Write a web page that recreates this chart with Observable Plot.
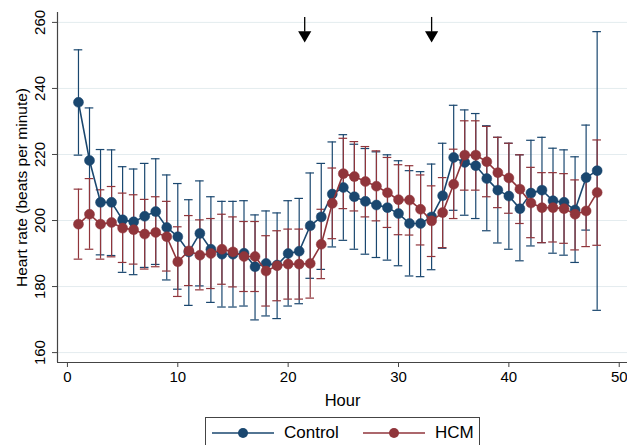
<!DOCTYPE html>
<html>
<head>
<meta charset="utf-8">
<script src="https://cdn.jsdelivr.net/npm/d3@7"></script>
<script src="https://cdn.jsdelivr.net/npm/@observablehq/plot@0.6"></script>
<style>
  html, body { margin: 0; padding: 0; background: #fff; overflow: hidden; }
  body { width: 627px; height: 445px; font-family: "Liberation Sans", Arial, sans-serif; }
  #chart svg { display: block; }
  #legend {
    position: absolute; left: 205px; top: 417px; width: 275px; height: 36px;
    border: 1px solid #444; background: #fff; box-sizing: border-box;
    font-size: 17px; color: #000;
  }
  #legend .item { position: absolute; top: 5px; height: 20px; display: flex; align-items: center; }
  #legend svg { display: block; }
  #legend span { margin-left: 10px; }
</style>
</head>
<body>
<div id="chart"></div>
<div id="legend"></div>
<script>
const hours = [1,2,3,4,5,6,7,8,9,10,11,12,13,14,15,16,17,18,19,20,21,22,23,24,25,26,27,28,29,30,31,32,33,34,35,36,37,38,39,40,41,42,43,44,45,46,47,48];

const controlMean = [235.8,218.2,205.5,205.5,200.2,199.6,201.3,202.7,197.9,195.1,190.5,196.1,191.3,189.8,189.8,190.1,186.0,187.0,186.5,190.0,190.7,198.4,201.1,208.0,210.0,207.2,205.8,204.7,203.9,202.1,199.1,199.1,201.1,207.5,219.1,217.6,216.6,212.7,209.2,207.4,203.6,208.3,209.2,206.0,205.5,203.2,213.0,215.1];
const controlLo = [219.8,202.3,189.6,189.4,184.3,183.6,185.8,186.7,182.0,179.2,174.3,180.2,175.2,173.8,173.8,174.1,169.9,171.1,170.3,174.1,174.8,182.5,185.2,192.0,194.0,191.3,189.8,188.8,188.0,186.3,183.2,183.0,185.1,191.6,203.1,201.6,200.6,196.9,193.2,191.3,187.8,192.3,193.3,190.1,189.5,187.3,197.1,172.8];
const controlHi = [251.7,234.1,221.5,221.4,216.3,215.6,217.3,218.7,213.8,211.2,206.3,212.0,207.2,205.8,205.8,206.0,201.7,202.9,202.3,206.0,206.7,214.4,217.3,223.8,226.0,223.1,221.8,220.8,219.9,218.1,215.1,214.8,217.1,223.4,234.9,233.5,232.4,228.7,225.2,223.4,219.9,224.3,225.2,221.9,221.4,219.3,228.9,257.2];

const hcmMean = [198.9,201.9,198.9,199.4,197.7,197.2,195.9,196.4,195.1,187.5,190.8,189.5,190.0,191.3,190.5,189.1,189.1,184.7,186.3,186.8,186.8,187.0,192.8,205.2,214.2,213.3,211.8,210.4,208.4,206.3,206.2,203.4,199.9,202.4,211.0,219.8,219.8,217.8,214.5,212.9,209.5,205.3,203.9,203.9,203.6,201.9,202.9,208.5];
const hcmLo = [188.3,191.3,188.3,189.0,187.3,186.8,185.3,186.0,184.7,177.0,180.3,179.0,179.4,180.7,179.9,178.5,178.5,174.1,175.7,176.2,176.2,176.5,182.4,194.5,203.6,202.9,201.1,199.9,197.9,195.7,195.6,192.6,189.1,191.8,200.6,209.2,209.2,207.2,203.9,202.2,199.1,194.8,193.3,193.5,193.1,191.1,192.1,192.5];
const hcmHi = [209.5,212.7,209.3,210.3,208.3,207.8,206.4,207.2,205.8,198.1,201.5,200.2,200.6,201.9,201.1,199.7,199.7,195.4,196.9,197.4,197.4,197.7,203.4,215.9,224.9,223.9,222.4,221.1,219.1,216.9,216.6,213.8,210.5,213.0,221.6,230.2,230.2,228.5,225.2,223.4,219.9,216.1,214.5,214.5,214.2,212.3,213.5,224.4];

const arrowHours = [21.5, 33];
const xTicks = [0, 10, 20, 30, 40, 50];
const yTicks = [160, 180, 200, 220, 240, 260];
const seriesNames = ["Control", "HCM"];
const seriesColors = ["#1a476f", "#90353b"];

const control = hours.map((h, i) => ({h, mean: controlMean[i], lo: controlLo[i], hi: controlHi[i]}));
const hcm = hours.map((h, i) => ({h, mean: hcmMean[i], lo: hcmLo[i], hi: hcmHi[i]}));

const capHalf = 0.39;
function ciMarks(data, color) {
  return [
    Plot.ruleX(data, {x: "h", y1: "lo", y2: "hi", stroke: color, strokeWidth: 1.2}),
    Plot.ruleY(data, {y: "lo", x1: d => d.h - capHalf, x2: d => d.h + capHalf, stroke: color, strokeWidth: 1.2}),
    Plot.ruleY(data, {y: "hi", x1: d => d.h - capHalf, x2: d => d.h + capHalf, stroke: color, strokeWidth: 1.2})
  ];
}
function lineMarks(data, color) {
  return [
    Plot.line(data, {x: "h", y: "mean", stroke: color, strokeWidth: 1.6}),
    Plot.dot(data, {x: "h", y: "mean", r: 5, fill: color, stroke: color, strokeWidth: 0.5})
  ];
}

const chart = Plot.plot({
  width: 627,
  height: 412,
  marginLeft: 57,
  marginRight: 0,
  marginTop: 12,
  marginBottom: 50,
  style: {fontFamily: "'Liberation Sans', Arial, sans-serif", fontSize: "15px", color: "#000", background: "#fff"},
  x: {domain: [-0.9, 50.75], ticks: xTicks, label: null},
  y: {domain: [157, 263], ticks: yTicks, label: null},
  marks: [
    Plot.gridY(yTicks, {stroke: "#e4ecef", strokeOpacity: 1, strokeWidth: 1}),
    Plot.ruleY([157], {stroke: "#444", strokeWidth: 1.2}),
    Plot.ruleX([-0.9], {stroke: "#444", strokeWidth: 1.2}),
    Plot.axisX({ticks: xTicks, tickSize: 5, tickPadding: 4, fontSize: 15, stroke: "#444"}),
    Plot.axisX({ticks: [], label: "Hour", labelAnchor: "center", labelArrow: "none", labelOffset: 43, fontSize: 16.5}),
    Plot.axisY({ticks: yTicks, tickSize: 5, tickPadding: 8, tickRotate: -90, fontSize: 15, stroke: "#444"}),
    Plot.axisY({ticks: [], label: "Heart rate (beats per minute)", labelAnchor: "center", labelArrow: "none", labelOffset: 42, fontSize: 15.5}),
    ...ciMarks(control, seriesColors[0]),
    ...ciMarks(hcm, seriesColors[1]),
    ...lineMarks(control, seriesColors[0]),
    ...lineMarks(hcm, seriesColors[1]),
    Plot.ruleX(arrowHours, {x: d => d, y1: 261.5, y2: 257, stroke: "#000", strokeWidth: 1.3}),
    Plot.dot(arrowHours, {x: d => d, y: 256.2, symbol: "triangle", r: 4.9, fill: "#000", rotate: 180})
  ]
});
document.getElementById("chart").appendChild(chart);

// legend
const legend = document.getElementById("legend");
const lefts = [6, 157];
seriesNames.forEach((name, i) => {
  const item = document.createElement("div");
  item.className = "item";
  item.style.left = lefts[i] + "px";
  item.innerHTML = `<svg width="62" height="20"><line x1="0" x2="62" y1="10" y2="10" stroke="${seriesColors[i]}" stroke-width="1.6"/><circle cx="31" cy="10" r="5" fill="${seriesColors[i]}"/></svg><span>${name}</span>`;
  legend.appendChild(item);
});
</script>
</body>
</html>
